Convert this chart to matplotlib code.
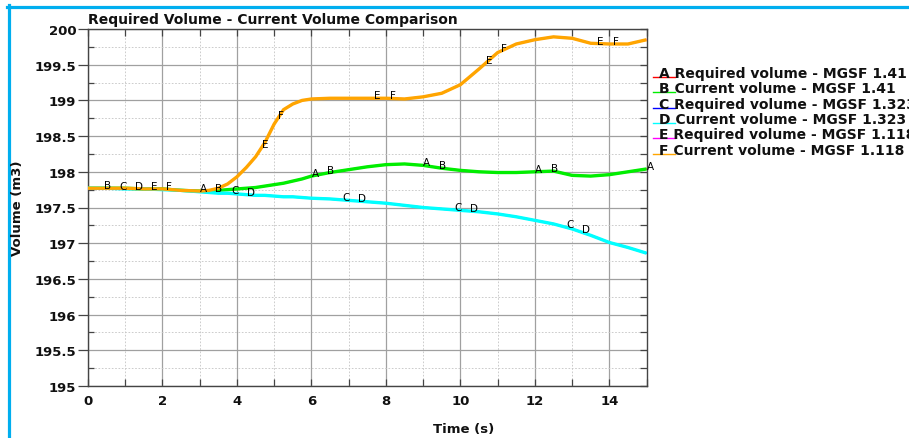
import numpy as np
import matplotlib
matplotlib.use("Agg")
import matplotlib.pyplot as plt
from matplotlib.lines import Line2D
from matplotlib.ticker import MultipleLocator, FuncFormatter

# time samples (s)
time_s = [0, 0.5, 1, 1.5, 2, 2.5, 3, 3.25, 3.5, 3.75, 4, 4.25, 4.5, 4.75, 5, 5.25,
          5.5, 5.75, 6, 6.5, 7, 7.5, 8, 8.5, 9, 9.5, 10, 10.5, 11, 11.5, 12, 12.5,
          13, 13.5, 14, 14.5, 15]

# current volume (m3)
cur_141 = [197.77, 197.77, 197.77, 197.76, 197.76, 197.74, 197.73, 197.73, 197.74,
           197.75, 197.76, 197.77, 197.78, 197.80, 197.82, 197.84, 197.87, 197.90,
           197.94, 197.99, 198.03, 198.07, 198.10, 198.11, 198.09, 198.05, 198.02,
           198.00, 197.99, 197.99, 198.00, 198.01, 197.95, 197.94, 197.96, 198.00,
           198.04]
cur_1323 = [197.77, 197.77, 197.76, 197.76, 197.75, 197.74, 197.72, 197.71, 197.70,
            197.70, 197.69, 197.68, 197.67, 197.67, 197.66, 197.65, 197.65, 197.64,
            197.63, 197.62, 197.60, 197.58, 197.56, 197.53, 197.50, 197.48, 197.46,
            197.44, 197.41, 197.37, 197.32, 197.27, 197.20, 197.11, 197.01, 196.94,
            196.86]
cur_1118 = [197.77, 197.77, 197.77, 197.76, 197.76, 197.74, 197.73, 197.74, 197.77,
            197.83, 197.93, 198.06, 198.21, 198.41, 198.67, 198.87, 198.95, 199.00,
            199.02, 199.03, 199.03, 199.03, 199.03, 199.02, 199.05, 199.10, 199.22,
            199.44, 199.67, 199.79, 199.85, 199.89, 199.87, 199.80, 199.79, 199.79,
            199.85]

# required volume curves sit right under the current ones
req_141 = list(cur_141)
req_1323 = list(cur_1323)
req_1118 = list(cur_1118)

letters = ["A", "B", "C", "D", "E", "F"]
names = ["Required volume - MGSF 1.41", "Current volume - MGSF 1.41",
         "Required volume - MGSF 1.323", "Current volume - MGSF 1.323",
         "Required volume - MGSF 1.118", "Current volume - MGSF 1.118"]
series = [req_141, cur_141, req_1323, cur_1323, req_1118, cur_1118]
colors = ["#ff0000", "#00ee00", "#0000ff", "#00ffff", "#ff00ff", "#ffa500"]

W, H = 909, 439
fig = plt.figure(figsize=(W / 100, H / 100), dpi=100)
ax = fig.add_axes([88 / W, 1 - 387 / H, (646.6 - 88) / W, (387 - 30) / H])

for i, (vals, col) in enumerate(zip(series, colors)):
    # required curves (even index) are thinner so they stay hidden
    lw = 1.4 if i % 2 == 0 else 2.4
    ax.plot(time_s, vals, color=col, lw=lw, solid_capstyle="butt", zorder=3)

# curve letters, every 3 s with a small shift per curve
for i, (let, vals) in enumerate(zip(letters, series)):
    for start in np.arange(0, 15.01, 3.0):
        tx = start + 0.42 * i
        if tx == 0 or tx > 15.01:
            continue
        ty = np.interp(tx, time_s, vals)
        ax.text(tx, ty, let, fontsize=7.5, ha="left", va="baseline",
                color="black", zorder=5, clip_on=False)

ax.set_xlim(0, 15)
ax.set_ylim(195, 200)
ax.xaxis.set_major_locator(MultipleLocator(2))
ax.xaxis.set_minor_locator(MultipleLocator(1))
ax.yaxis.set_major_locator(MultipleLocator(0.5))
ax.yaxis.set_minor_locator(MultipleLocator(0.25))
ax.yaxis.set_major_formatter(FuncFormatter(lambda v, p: f"{v:g}"))
ax.xaxis.set_major_formatter(FuncFormatter(lambda v, p: f"{v:g}"))

ax.grid(True, which="major", color="#a0a0a0", lw=0.9, zorder=0)
ax.grid(True, which="minor", color="#c4c4c4", lw=0.6, ls=(0, (2, 2)), zorder=0)
ax.set_axisbelow(True)

tick_col = "#444444"
ax.tick_params(axis="x", which="both", direction="in", top=True, length=5,
               width=0.9, color=tick_col, pad=5.5)
ax.tick_params(axis="y", which="major", direction="out", right=False, length=7,
               width=0.9, color=tick_col, pad=1.5)
ax.tick_params(axis="y", which="minor", direction="in", right=False, length=4,
               width=0.9, color=tick_col)
for lab in ax.get_xticklabels() + ax.get_yticklabels():
    lab.set_fontweight("bold")
    lab.set_fontsize(9.5)
    lab.set_color("#111111")
for sp in ax.spines.values():
    sp.set_color(tick_col)
    sp.set_linewidth(1.0)

# inward ticks on the right edge
ax_r = ax.twinx()
ax_r.set_ylim(ax.get_ylim())
ax_r.yaxis.set_major_locator(MultipleLocator(0.5))
ax_r.yaxis.set_minor_locator(MultipleLocator(0.25))
ax_r.tick_params(axis="y", which="both", direction="in", length=5, width=0.9,
                 color=tick_col, labelright=False)
for sp in ax_r.spines.values():
    sp.set_visible(False)

# texts
fig.text(88 / W, 1 - 20 / H, "Required Volume - Current Volume Comparison",
         fontsize=10, fontweight="bold", ha="left", va="center", color="#111111")
fig.text(18 / W, 1 - 208 / H, "Volume (m3)", rotation=90, fontsize=9.5,
         fontweight="bold", ha="center", va="center", color="#111111")
fig.text(464 / W, 1 - 430 / H, "Time (s)", fontsize=9.5, fontweight="bold",
         ha="center", va="center", color="#111111")

# hand-made legend: letter over a short coloured line
for i, (let, name, col) in enumerate(zip(letters, names, colors)):
    base = 78 + 15.35 * i
    fig.add_artist(Line2D([653 / W, 675 / W], [1 - base / H, 1 - base / H],
                          color=col, lw=1.0, transform=fig.transFigure))
    fig.text(659 / W, 1 - base / H, f"{let} {name}", fontsize=10,
             fontweight="bold", ha="left", va="baseline", color="#111111")

# blue frame at top / left
blue = "#00aeef"
fig.add_artist(Line2D([9 / W, 9 / W], [0, 1 - 6 / H], color=blue, lw=2.3,
                      transform=fig.transFigure))
fig.add_artist(Line2D([7.5 / W, 1], [1 - 7.5 / H, 1 - 7.5 / H], color=blue, lw=2.3,
                      transform=fig.transFigure))

fig.savefig("out.png", dpi=100)
